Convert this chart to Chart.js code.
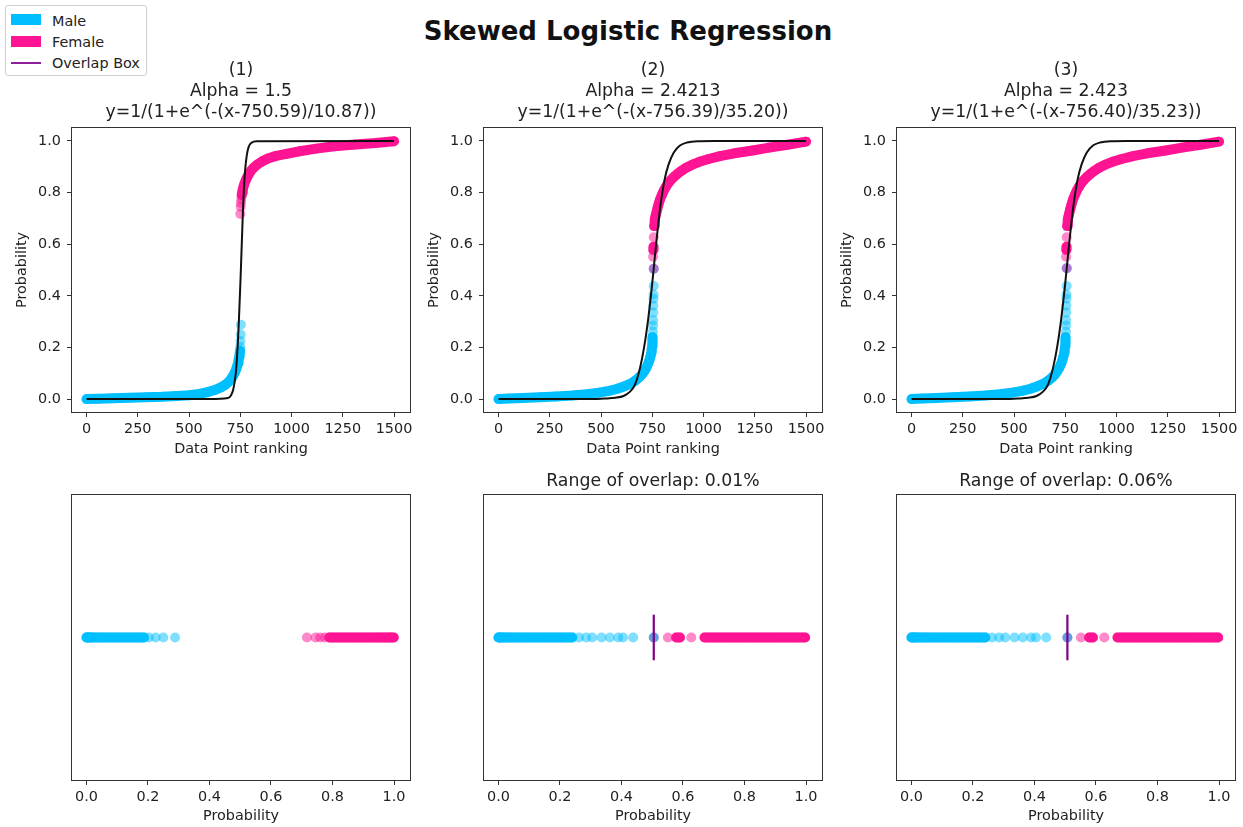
<!DOCTYPE html>
<html>
<head>
<meta charset="utf-8">
<script src="https://cdn.jsdelivr.net/npm/chart.js@4.4.0/dist/chart.umd.min.js"></script>
<style>
  body { margin: 0; background: #fff; font-family: 'DejaVu Sans', sans-serif; color: #222; }
  #fig { position: relative; width: 1243px; height: 827px; overflow: hidden; }
  #fig canvas { position: absolute; }
  .suptitle { position: absolute; left: 0; width: 1256px; top: 18px; line-height: 26px;
              font-size: 26px; font-weight: bold; text-align: center; color: #111; }
  .legend { position: absolute; left: 5px; top: 5px; width: 142px; height: 71px; box-sizing: border-box;
            border: 1px solid #d0d0d0; border-radius: 3px; background: #fff; }
  .legend span { position: absolute; }
  .legend .txt { left: 46px; font-size: 14.4px; line-height: 14px; white-space: nowrap; }
</style>
</head>
<body>
<div id="fig">
  <div class="suptitle">Skewed Logistic Regression</div>
  <div class="legend">
    <span style="left:5px;top:8px;width:30px;height:11px;background:#00BFFF"></span>
    <span class="txt" style="top:8px">Male</span>
    <span style="left:5px;top:30px;width:30px;height:11px;background:#FF1493"></span>
    <span class="txt" style="top:29px">Female</span>
    <span style="left:5px;top:56px;width:30px;height:2px;background:#8e1f9c"></span>
    <span class="txt" style="top:50px">Overlap Box</span>
  </div>
</div>
<script>
// ---- data ----
const rankTicks = [0, 250, 500, 750, 1000, 1250, 1500];
const probTicks = [0.0, 0.2, 0.4, 0.6, 0.8, 1.0];

const panelTitles = [
  ['(1)', 'Alpha = 1.5', 'y=1/(1+e^(-(x-750.59)/10.87))'],
  ['(2)', 'Alpha = 2.4213', 'y=1/(1+e^(-(x-756.39)/35.20))'],
  ['(3)', 'Alpha = 2.423', 'y=1/(1+e^(-(x-756.40)/35.23))']
];
const stripTitles = ['', 'Range of overlap: 0.01%', 'Range of overlap: 0.06%'];

// panel (1)
const male1Rank = [0, 60, 130, 210, 290, 370, 440, 500, 550, 590, 625, 655, 678, 695, 707, 716, 724, 730, 735, 739, 742, 745, 747, 749, 750, 751, 752, 753];
const male1Prob = [0.000, 0.001, 0.003, 0.005, 0.007, 0.009, 0.012, 0.015, 0.020, 0.027, 0.035, 0.045, 0.056, 0.068, 0.080, 0.092, 0.104, 0.116, 0.128, 0.140, 0.152, 0.164, 0.176, 0.187, 0.203, 0.225, 0.250, 0.288];
const female1Rank = [750, 752, 753, 755, 757, 759, 762, 766, 771, 777, 784, 792, 802, 815, 832, 855, 885, 925, 975, 1040, 1120, 1210, 1310, 1410, 1500];
const female1Prob = [0.717, 0.745, 0.760, 0.775, 0.790, 0.800, 0.812, 0.824, 0.836, 0.848, 0.860, 0.872, 0.884, 0.896, 0.908, 0.920, 0.932, 0.942, 0.950, 0.960, 0.970, 0.979, 0.986, 0.992, 0.999];
const fit1Rank = [0, 600, 690, 705, 715, 722, 728, 733, 738, 743, 747, 751, 755, 759, 763, 768, 774, 781, 790, 805, 830, 1500];
const fit1Prob = [0.000, 0.000, 0.004, 0.015, 0.035, 0.065, 0.100, 0.150, 0.215, 0.300, 0.380, 0.460, 0.550, 0.640, 0.730, 0.820, 0.890, 0.940, 0.975, 0.993, 0.999, 1.000];

// panel (2)
const male2Rank = [0, 50, 120, 200, 280, 360, 430, 490, 540, 580, 615, 645, 668, 686, 700, 711, 720, 727, 733, 738, 742, 745, 747, 749, 750, 751, 752, 753, 754, 754, 755, 755, 756, 756, 757, 757];
const male2Prob = [0.000, 0.002, 0.004, 0.007, 0.010, 0.014, 0.019, 0.025, 0.032, 0.040, 0.050, 0.060, 0.072, 0.084, 0.096, 0.108, 0.120, 0.132, 0.144, 0.156, 0.168, 0.180, 0.192, 0.204, 0.216, 0.228, 0.240, 0.262, 0.285, 0.305, 0.335, 0.362, 0.389, 0.405, 0.438, 0.505];
const female2Rank = [754, 755, 756, 757, 759, 761, 763, 766, 770, 774, 778, 783, 788, 795, 802, 809, 818, 828, 840, 855, 872, 892, 915, 945, 980, 1025, 1080, 1150, 1240, 1320, 1410, 1500];
const female2Prob = [0.551, 0.578, 0.590, 0.627, 0.670, 0.683, 0.696, 0.709, 0.722, 0.735, 0.748, 0.761, 0.774, 0.787, 0.800, 0.812, 0.824, 0.836, 0.848, 0.860, 0.872, 0.884, 0.896, 0.908, 0.919, 0.930, 0.941, 0.952, 0.963, 0.974, 0.985, 0.997];
const fit2Rank = [0, 450, 520, 570, 610, 640, 665, 690, 710, 730, 750, 770, 790, 810, 830, 855, 885, 920, 970, 1050, 1500];
const fit2Prob = [0.000, 0.000, 0.002, 0.005, 0.012, 0.028, 0.055, 0.120, 0.200, 0.310, 0.450, 0.610, 0.750, 0.850, 0.910, 0.955, 0.982, 0.994, 0.999, 1.000, 1.000];

// panel (3)
const male3Rank = [0, 50, 120, 200, 280, 360, 430, 490, 540, 580, 615, 645, 668, 686, 700, 711, 720, 727, 733, 738, 742, 745, 747, 749, 750, 751, 752, 753, 754, 754, 755, 755, 756, 756, 757, 757];
const male3Prob = [0.000, 0.002, 0.004, 0.007, 0.010, 0.014, 0.019, 0.025, 0.032, 0.040, 0.050, 0.060, 0.072, 0.084, 0.096, 0.108, 0.120, 0.132, 0.144, 0.156, 0.168, 0.180, 0.192, 0.204, 0.216, 0.228, 0.240, 0.262, 0.285, 0.305, 0.335, 0.362, 0.389, 0.405, 0.438, 0.507];
const female3Rank = [754, 755, 756, 757, 759, 761, 763, 766, 770, 774, 778, 783, 788, 795, 802, 809, 818, 828, 840, 855, 872, 892, 915, 945, 980, 1025, 1080, 1150, 1240, 1320, 1410, 1500];
const female3Prob = [0.551, 0.578, 0.590, 0.627, 0.670, 0.683, 0.696, 0.709, 0.722, 0.735, 0.748, 0.761, 0.774, 0.787, 0.800, 0.812, 0.824, 0.836, 0.848, 0.860, 0.872, 0.884, 0.896, 0.908, 0.919, 0.930, 0.941, 0.952, 0.963, 0.974, 0.985, 0.997];
const fit3Rank = [0, 450, 520, 570, 610, 640, 665, 690, 710, 730, 750, 770, 790, 810, 830, 855, 885, 920, 970, 1050, 1500];
const fit3Prob = [0.000, 0.000, 0.002, 0.005, 0.012, 0.028, 0.055, 0.120, 0.200, 0.310, 0.450, 0.610, 0.750, 0.850, 0.910, 0.955, 0.982, 0.994, 0.999, 1.000, 1.000];

// overlap box (panels 2 and 3 only)
const overlapRank = [null, 757, 757];
const overlapProb = [null, 0.505, 0.507];

// ---- styling ----
const MALE = '#00BFFF', MALE_A = 'rgba(0,191,255,0.5)';
const FEMALE = '#FF1493', FEMALE_A = 'rgba(255,20,147,0.5)';
const PURPLE = '#800080', PURPLE_A = 'rgba(128,0,140,0.5)', PURPLE_TOP = 'rgba(178,108,206,0.9)';
const GAP = 0.014;       // probability gap above which markers stop merging into a band
const BOX_HALF = 0.16;   // half height of the overlap marker in the strip plots
const FONT = 'DejaVu Sans';
const TICK_SIZE = 14.4, TITLE_SIZE = 17.3;

Chart.defaults.font.family = FONT;
Chart.defaults.color = '#222';
Chart.defaults.animation = false;

const panels = [
  { male: [male1Rank, male1Prob], female: [female1Rank, female1Prob], fit: [fit1Rank, fit1Prob] },
  { male: [male2Rank, male2Prob], female: [female2Rank, female2Prob], fit: [fit2Rank, fit2Prob] },
  { male: [male3Rank, male3Prob], female: [female3Rank, female3Prob], fit: [fit3Rank, fit3Prob] }
];
const boxLeft = [72, 484, 897];
const BOX_W = 338;

const framePlugin = {
  id: 'frame',
  afterDraw(chart) {
    const { ctx, chartArea: a } = chart;
    ctx.save();
    ctx.strokeStyle = '#333';
    ctx.lineWidth = 1;
    ctx.strokeRect(Math.round(a.left) - 0.5, Math.round(a.top) - 0.5,
      Math.round(a.right - a.left) + 1, Math.round(a.bottom - a.top) + 1);
    ctx.restore();
  }
};

function addCanvas(left, top, w, h) {
  const c = document.createElement('canvas');
  c.width = w; c.height = h;
  c.style.left = left + 'px'; c.style.top = top + 'px';
  c.style.width = w + 'px'; c.style.height = h + 'px';
  document.getElementById('fig').appendChild(c);
  return c;
}

// markers that sit closer than GAP along the probability axis merge into a solid band
function band(xs, ys, color, fade, key, order, asStrip) {
  return {
    data: xs.map((x, i) => asStrip ? { x: ys[i], y: 0 } : { x, y: ys[i] }),
    borderColor: color,
    borderWidth: 10,
    borderCapStyle: 'round',
    borderJoinStyle: 'round',
    tension: 0,
    pointRadius: 5,
    pointHoverRadius: 5,
    pointBorderWidth: 0,
    pointBackgroundColor: fade,
    order,
    segment: {
      borderColor: c => Math.abs(c.p1.parsed[key] - c.p0.parsed[key]) > GAP ? 'rgba(0,0,0,0)' : color
    }
  };
}

function tickGrid() {
  return { display: true, drawOnChartArea: false, drawTicks: true, tickLength: 5, tickColor: '#333', lineWidth: 1 };
}

function topChart(k) {
  const p = panels[k];
  const canvas = addCanvas(boxLeft[k] - 72, 50, 72 + BOX_W + 24, 410);
  const datasets = [
    {
      data: p.fit[0].map((x, i) => ({ x, y: p.fit[1][i] })),
      borderColor: '#111', borderWidth: 2, pointRadius: 0, pointHoverRadius: 0,
      cubicInterpolationMode: 'monotone', order: 0
    },
    band(p.female[0], p.female[1], FEMALE, FEMALE_A, 'y', 2, false),
    band(p.male[0], p.male[1], MALE, MALE_A, 'y', 3, false)
  ];
  if (overlapProb[k] !== null) {
    datasets.push({
      data: [{ x: overlapRank[k], y: overlapProb[k] }],
      showLine: false, pointRadius: 5, pointHoverRadius: 5, pointBorderWidth: 0,
      pointBackgroundColor: PURPLE_TOP, order: 1
    });
  }
  new Chart(canvas, {
    type: 'line',
    data: { datasets },
    plugins: [framePlugin],
    options: {
      responsive: false,
      events: [],
      layout: { padding: { left: 0, right: 24, top: 10.5, bottom: 0 } },
      plugins: {
        legend: { display: false },
        tooltip: { enabled: false },
        title: {
          display: true, text: panelTitles[k], fullSize: false, color: '#222',
          font: { size: TITLE_SIZE, weight: 'normal', lineHeight: '21px' },
          padding: { top: 0, bottom: 4.5 }
        }
      },
      scales: {
        x: {
          type: 'linear', min: -71, max: 1578,
          afterBuildTicks: s => { s.ticks = rankTicks.map(v => ({ value: v })); },
          afterFit: s => { s.height = 48; },
          ticks: { autoSkip: false, maxRotation: 0, padding: 4, font: { size: TICK_SIZE }, callback: v => String(v) },
          grid: tickGrid(),
          border: { display: false },
          title: { display: true, text: 'Data Point ranking', font: { size: TICK_SIZE }, padding: { top: 0, bottom: 2.4 } }
        },
        y: {
          type: 'linear', min: -0.05, max: 1.05,
          afterBuildTicks: s => { s.ticks = probTicks.map(v => ({ value: v })); },
          afterFit: s => { s.width = 72; },
          ticks: { padding: 6, font: { size: TICK_SIZE }, callback: v => v.toFixed(1) },
          grid: tickGrid(),
          border: { display: false },
          title: { display: true, text: 'Probability', font: { size: TICK_SIZE }, padding: { top: 14, bottom: 0 } }
        }
      }
    }
  });
}

function stripChart(k) {
  const p = panels[k];
  const canvas = addCanvas(boxLeft[k] - 72, 460, 72 + BOX_W + 24, 367);
  const hasTitle = stripTitles[k] !== '';
  const datasets = [
    band(p.male[0], p.male[1], MALE, MALE_A, 'x', 1, true),
    band(p.female[0], p.female[1], FEMALE, FEMALE_A, 'x', 2, true)
  ];
  if (overlapProb[k] !== null) {
    datasets.push({
      data: [{ x: overlapProb[k], y: -BOX_HALF }, { x: overlapProb[k], y: BOX_HALF }],
      borderColor: PURPLE, borderWidth: 2.2, pointRadius: 0, pointHoverRadius: 0, order: 0
    });
    datasets.push({
      data: [{ x: overlapProb[k], y: 0 }],
      showLine: false, pointRadius: 5, pointHoverRadius: 5, pointBorderWidth: 0,
      pointBackgroundColor: PURPLE_A, order: 3
    });
  }
  new Chart(canvas, {
    type: 'line',
    data: { datasets },
    plugins: [framePlugin],
    options: {
      responsive: false,
      events: [],
      layout: { padding: { left: 72, right: 24, top: hasTitle ? 11.5 : 35, bottom: 0 } },
      plugins: {
        legend: { display: false },
        tooltip: { enabled: false },
        title: {
          display: hasTitle, text: stripTitles[k], fullSize: false, color: '#222',
          font: { size: TITLE_SIZE, weight: 'normal', lineHeight: '21px' },
          padding: { top: 0, bottom: 2.5 }
        }
      },
      scales: {
        x: {
          type: 'linear', min: -0.047, max: 1.052,
          afterBuildTicks: s => { s.ticks = probTicks.map(v => ({ value: v })); },
          afterFit: s => { s.height = 47; },
          ticks: { autoSkip: false, maxRotation: 0, padding: 4, font: { size: TICK_SIZE }, callback: v => v.toFixed(1) },
          grid: tickGrid(),
          border: { display: false },
          title: { display: true, text: 'Probability', font: { size: TICK_SIZE }, padding: { top: 0, bottom: 1.8 } }
        },
        y: { type: 'linear', min: -1, max: 1, display: false }
      }
    }
  });
}

[0, 1, 2].forEach(k => { topChart(k); stripChart(k); });
</script>
</body>
</html>
